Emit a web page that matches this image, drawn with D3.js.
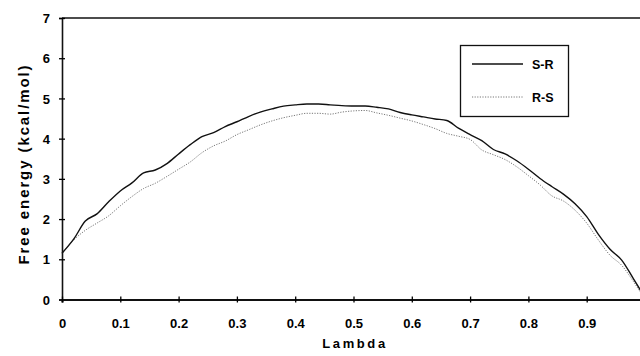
<!DOCTYPE html>
<html>
<head>
<meta charset="utf-8">
<script src="https://cdn.jsdelivr.net/npm/d3@7"></script>
<style>
  body { margin: 0; background: #fff; }
  text { font-family: "Liberation Sans", Arial, sans-serif; font-weight: bold; fill: #000; }
</style>
</head>
<body>
<div id="chart"></div>
<script>
var svgWidth = 640;
var svgHeight = 356;

// lambda values (step 0.02)
var lambdas = d3.range(0, 51).map(i => +(i * 0.02).toFixed(2));

// S-R free energy
var srValues = [1.15, 1.50, 1.95, 2.13, 2.43, 2.70, 2.90, 3.15, 3.22, 3.38,
  3.62, 3.85, 4.05, 4.15, 4.30, 4.42, 4.55, 4.66, 4.74, 4.81,
  4.84, 4.86, 4.86, 4.84, 4.82, 4.81, 4.81, 4.78, 4.74, 4.65,
  4.59, 4.54, 4.49, 4.45, 4.26, 4.10, 3.95, 3.73, 3.62, 3.45,
  3.24, 3.01, 2.81, 2.62, 2.38, 2.06, 1.62, 1.25, 0.98, 0.52, 0.05];

// R-S free energy
var rsValues = [1.15, 1.48, 1.72, 1.90, 2.08, 2.33, 2.56, 2.76, 2.89, 3.06,
  3.24, 3.42, 3.65, 3.82, 3.94, 4.10, 4.22, 4.34, 4.44, 4.52,
  4.58, 4.63, 4.63, 4.61, 4.66, 4.69, 4.70, 4.64, 4.58, 4.51,
  4.44, 4.35, 4.25, 4.13, 4.06, 3.98, 3.72, 3.60, 3.48, 3.30,
  3.08, 2.85, 2.58, 2.45, 2.22, 1.90, 1.48, 1.10, 0.85, 0.45, 0.00];

var xTicks = [0, 0.1, 0.2, 0.3, 0.4, 0.5, 0.6, 0.7, 0.8, 0.9];
var yTicks = [0, 1, 2, 3, 4, 5, 6, 7];
var seriesNames = ["S-R", "R-S"];

var svg = d3.select("#chart")
  .append("svg")
  .attr("width", svgWidth)
  .attr("height", svgHeight);

var x = d3.scaleLinear().domain([0, 1]).range([62, 645]);
var y = d3.scaleLinear().domain([0, 7]).range([299.5, 18]);

// top frame line
svg.append("line")
  .attr("x1", x(0)).attr("x2", svgWidth)
  .attr("y1", y(7)).attr("y2", y(7))
  .attr("stroke", "#111").attr("stroke-width", 1.6);

// y axis
var yAxis = svg.append("g")
  .attr("transform", `translate(${x(0)},0)`)
  .call(d3.axisLeft(y).tickValues(yTicks).tickFormat(d3.format("d")).tickSize(3).tickPadding(9));
yAxis.select(".domain").attr("stroke", "#111").attr("stroke-width", 1.6);
yAxis.selectAll(".tick line").attr("x2", 3).attr("x1", -3).attr("stroke-width", 1.3);
yAxis.selectAll("text").style("font-size", "13px").attr("dy", "0.36em");

// x axis
var xAxis = svg.append("g")
  .attr("transform", `translate(0,${y(0)})`)
  .call(d3.axisBottom(x).tickValues(xTicks).tickFormat(d => d === 0 ? "0" : d3.format(".1f")(d)).tickSize(3).tickPadding(16));
xAxis.select(".domain").attr("stroke", "#111").attr("stroke-width", 2.2);
xAxis.selectAll(".tick line").attr("y1", -3).attr("y2", 3).attr("stroke-width", 1.3);
xAxis.selectAll("text").style("font-size", "13px");

// curves
var line = d3.line()
  .x((d, i) => x(lambdas[i]))
  .y(d => y(d))
  .curve(d3.curveMonotoneX);

svg.append("path")
  .datum(rsValues)
  .attr("fill", "none")
  .attr("stroke", "#777")
  .attr("stroke-width", 1)
  .attr("stroke-dasharray", "1.2,1.4")
  .attr("d", line);

svg.append("path")
  .datum(srValues)
  .attr("fill", "none")
  .attr("stroke", "#111")
  .attr("stroke-width", 1.4)
  .attr("d", line);

// axis titles
svg.append("text")
  .attr("transform", "rotate(-90)")
  .attr("x", -164)
  .attr("y", 29)
  .attr("text-anchor", "middle")
  .style("font-size", "15px")
  .style("letter-spacing", "1.9px")
  .text("Free energy (kcal/mol)");

svg.append("text")
  .attr("x", 355)
  .attr("y", 348)
  .attr("text-anchor", "middle")
  .style("font-size", "13px")
  .style("letter-spacing", "2.6px")
  .text("Lambda");

// legend
var legend = svg.append("g");
legend.append("rect")
  .attr("x", 460.5).attr("y", 45.5)
  .attr("width", 108).attr("height", 71)
  .attr("fill", "#fff").attr("stroke", "#111").attr("stroke-width", 1.3);

legend.selectAll(".key")
  .data(seriesNames)
  .enter()
  .append("line")
  .attr("x1", 472).attr("x2", 523)
  .attr("y1", (d, i) => 64 + i * 33)
  .attr("y2", (d, i) => 64 + i * 33)
  .attr("stroke", (d, i) => i === 0 ? "#111" : "#777")
  .attr("stroke-width", (d, i) => i === 0 ? 1.4 : 1)
  .attr("stroke-dasharray", (d, i) => i === 0 ? null : "1.2,1.4");

legend.selectAll(".lbl")
  .data(seriesNames)
  .enter()
  .append("text")
  .attr("x", 532)
  .attr("y", (d, i) => 68.5 + i * 33)
  .style("font-size", "12.5px")
  .text(d => d);
</script>
</body>
</html>
